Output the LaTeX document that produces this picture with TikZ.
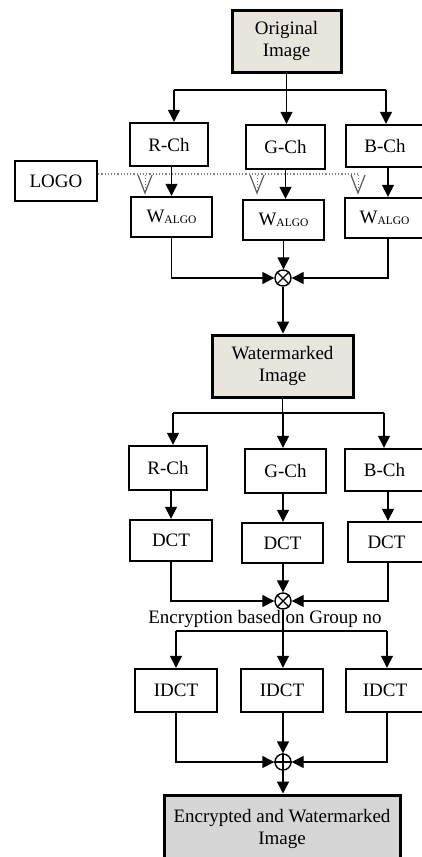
\documentclass[tikz,border=0pt]{standalone}
\usepackage{fontspec}
\setmainfont{Liberation Serif}
\usetikzlibrary{arrows.meta}
\definecolor{beige}{HTML}{E8E5DC}
\definecolor{lgray}{HTML}{D6D6D6}
\newcommand{\walgo}{W\raisebox{-1.5pt}{\fontsize{11.5}{12}\selectfont ALGO}}
\begin{document}
\begin{tikzpicture}[x=1pt,y=-1pt,
  font=\fontsize{19}{22}\selectfont,
  box/.style={draw, line width=2.4pt, fill=white, inner sep=0pt, align=center},
  bigbox/.style={draw, line width=3pt, inner sep=0pt, align=center},
  con/.style={line width=1.4pt},
  arr/.style={con, -{Triangle[length=12pt,width=12pt]}},
  sum/.style={draw, circle, line width=1.4pt, minimum size=16pt, inner sep=0pt}]
\useasboundingbox (0,0) rectangle (422,857);
% nodes
\node[bigbox, fill=beige, minimum width=109pt, minimum height=62pt] (orig) at (286.5,41) {Original\\Image};
\node[box, minimum width=78pt, minimum height=43pt] (r1) at (169,144.5) {R-Ch};
\node[box, minimum width=79pt, minimum height=44pt] (g1) at (285.5,147) {G-Ch};
\node[box, minimum width=78pt, minimum height=42pt] (b1) at (385,146) {B-Ch};
\node[box, minimum width=82pt, minimum height=40pt] (logo) at (56,181) {LOGO};
\node[box, minimum width=81pt, minimum height=40pt] (w1) at (171.5,217) {\walgo};
\node[box, minimum width=81pt, minimum height=40pt] (w2) at (283.5,220) {\walgo};
\node[box, minimum width=79pt, minimum height=40pt] (w3) at (384.5,218) {\walgo};
\node[sum] (c1) at (283,278) {};
\draw[con] (c1.north west) -- (c1.south east) (c1.north east) -- (c1.south west);
\node[bigbox, fill=beige, minimum width=141pt, minimum height=62pt] (wm) at (282.5,366) {Watermarked\\Image};
\node[box, minimum width=78pt, minimum height=44pt] (r2) at (168,468) {R-Ch};
\node[box, minimum width=81pt, minimum height=44pt] (g2) at (285.5,471) {G-Ch};
\node[box, minimum width=79pt, minimum height=42pt] (b2) at (384.5,470) {B-Ch};
\node[box, minimum width=82pt, minimum height=41pt] (d1) at (171,540.5) {DCT};
\node[box, minimum width=81pt, minimum height=40pt] (d2) at (282.5,543) {DCT};
\node[box, minimum width=77pt, minimum height=40pt] (d3) at (386.5,542) {DCT};
\node[sum] (c2) at (283,601) {};
\draw[con] (c2.north west) -- (c2.south east) (c2.north east) -- (c2.south west);
\node[box, minimum width=82pt, minimum height=43pt] (i1) at (176,690.5) {IDCT};
\node[box, minimum width=82pt, minimum height=43pt] (i2) at (282,690.5) {IDCT};
\node[box, minimum width=78pt, minimum height=43pt] (i3) at (385,690.5) {IDCT};
\node[sum] (c3) at (283,762) {};
\draw[con] (c3.north) -- (c3.south) (c3.west) -- (c3.east);
\node[bigbox, fill=lgray, minimum width=236pt, minimum height=68pt] (fin) at (282,829) {Encrypted and Watermarked\\Image};
% coordinates
\coordinate (s1) at (286.5,90);
\coordinate (s1l) at (174,90);
\coordinate (s1r) at (386,90);
\coordinate (rb) at (388,0);
\coordinate (dl) at (358,174);
\coordinate (v1) at (145,175);
\coordinate (v2) at (257,175);
\coordinate (v3) at (358,175);
\coordinate (s2) at (282.5,413);
\coordinate (s2l) at (173,413);
\coordinate (s2m) at (283,413);
\coordinate (s2r) at (384,413);
\coordinate (xd1) at (171,0);
\coordinate (xd3) at (388,0);
\coordinate (s3) at (283,631);
\coordinate (s3l) at (176,631);
\coordinate (s3r) at (387,631);
% stage 1
\draw[con] (orig.south) -- (s1);
\draw[con] (s1l) -- (s1r);
\draw[arr] (s1l) -- (s1l |- r1.north);
\draw[arr] (s1) -- (s1 |- g1.north);
\draw[arr] (s1r) -- (s1r |- b1.north);
\draw[arr] (w1.north |- r1.south) -- (w1.north);
\draw[arr] (g1.south) -- (g1.south |- w2.north);
\draw[arr] (rb |- b1.south) -- (rb |- w3.north);
% logo dotted
\draw[line width=1.2pt, dotted, gray] (logo.east |- dl) -- (dl);
\foreach \v in {v1,v2,v3}{
  \draw[line width=1pt, dotted, gray] (\v) -- ([yshift=-14pt]\v);
  \draw[line width=1.2pt, gray!70!black] ([xshift=-7pt]\v) -- ([yshift=-18pt]\v) -- ([xshift=7pt]\v);
}
\draw[arr] (w1.south) |- (c1.west);
\draw[arr] (rb |- w3.south) |- (c1.east);
\draw[arr] (w2.south) -- (w2.south |- c1.north);
\draw[arr] (c1.south) -- (c1.south |- wm.north);
% stage 2
\draw[con] (wm.south) -- (s2);
\draw[con] (s2l) -- (s2r);
\draw[arr] (s2l) -- (s2l |- r2.north);
\draw[arr] (s2m) -- (s2m |- g2.north);
\draw[arr] (s2r) -- (s2r |- b2.north);
\draw[arr] (xd1 |- r2.south) -- (xd1 |- d1.north);
\draw[arr] (s2m |- g2.south) -- (s2m |- d2.north);
\draw[arr] (xd3 |- b2.south) -- (xd3 |- d3.north);
\draw[arr] (xd1 |- d1.south) |- (c2.west);
\draw[arr] (xd3 |- d3.south) |- (c2.east);
\draw[arr] (s2m |- d2.south) -- (c2.north);
% stage 3
\draw[con] (c2.south) -- (s3);
\node[inner sep=0pt] (enc) at (265,619) {Encryption based on Group no};
\draw[con] (s3l) -- (s3r);
\draw[arr] (s3l) -- (s3l |- i1.north);
\draw[arr] (s3) -- (s3 |- i2.north);
\draw[arr] (s3r) -- (s3r |- i3.north);
\draw[arr] (s3l |- i1.south) |- (c3.west);
\draw[arr] (s3r |- i3.south) |- (c3.east);
\draw[arr] (s3 |- i2.south) -- (c3.north);
\draw[arr] (c3.south) -- (c3.south |- fin.north);
\end{tikzpicture}
\end{document}
